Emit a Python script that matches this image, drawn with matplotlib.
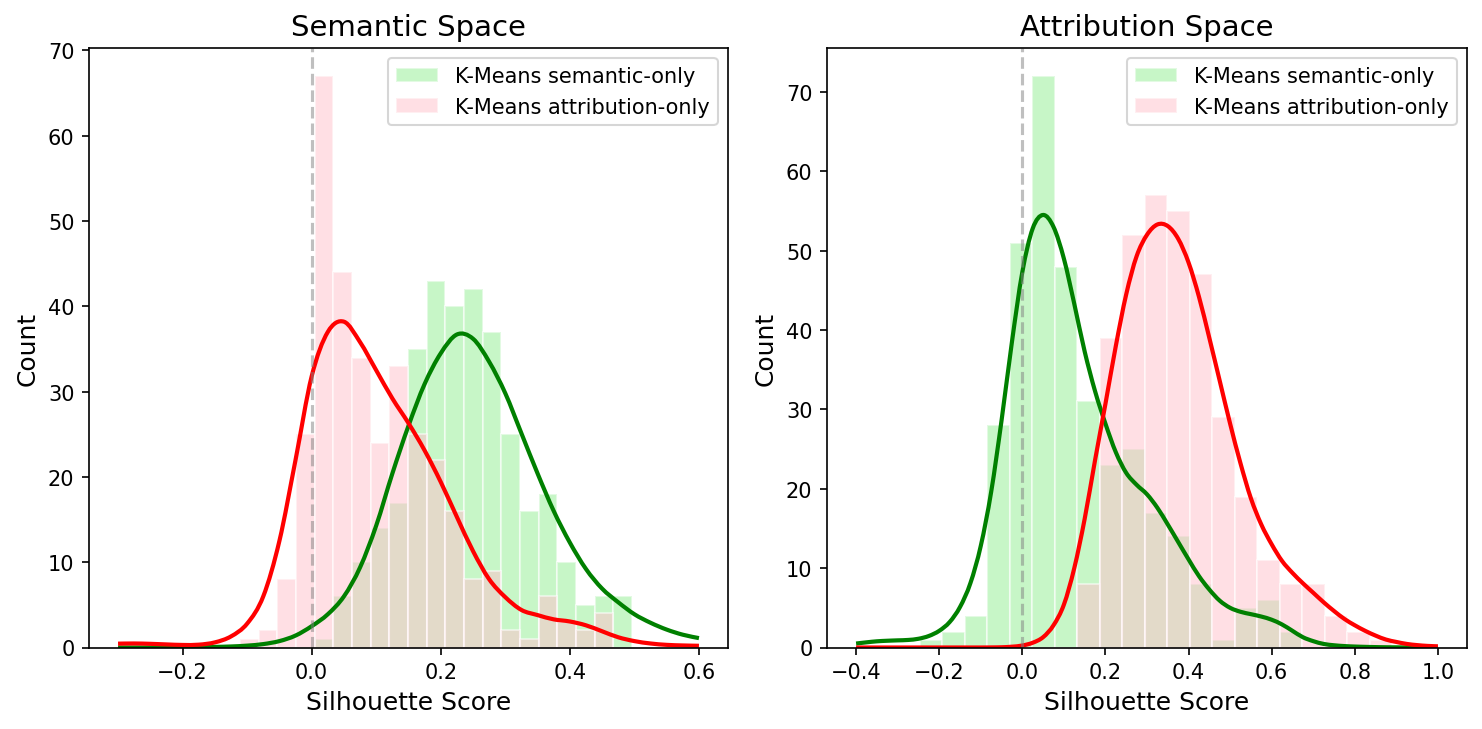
import numpy as np
import matplotlib
matplotlib.use("Agg")
import matplotlib.pyplot as plt
from matplotlib.path import Path
from matplotlib.patches import PathPatch

# ---------------- data ----------------
titles = ["Semantic Space", "Attribution Space"]
series_labels = ["K-Means semantic-only", "K-Means attribution-only"]

# Semantic space histogram (21 common bins)
sem_bin_range = (-0.111, 0.496)
sem_counts_semantic = [0, 0, 0, 0, 1, 6, 10, 14, 17, 35, 43, 40, 42, 37, 25, 16, 18, 10, 5, 6, 6]
sem_counts_attrib = [1, 2, 8, 25, 67, 44, 34, 24, 33, 25, 22, 16, 8, 9, 2, 1, 6, 3, 2, 4, 0]

# Attribution space histogram (21 common bins)
att_bin_range = (-0.2466, 0.8897)
att_counts_semantic = [1, 2, 4, 28, 51, 72, 48, 31, 23, 25, 17, 14, 8, 1, 5, 6, 2, 0, 0, 0, 0]
att_counts_attrib = [0, 0, 0, 0, 0, 0, 0, 8, 39, 52, 57, 55, 47, 29, 19, 11, 8, 8, 4, 2, 1]

# KDE curves (count scale)
sem_kde_x = np.linspace(-0.3, 0.6, 37)
sem_kde_semantic = [0.0, 0.0, 0.0, 0.01, 0.02, 0.04, 0.07, 0.12, 0.22, 0.4, 0.75, 1.4,
                    2.5, 3.9, 6.0, 9.4, 14.3, 20.4, 26.0, 30.9, 34.5, 36.7, 36.2, 33.5,
                    29.8, 25.1, 20.4, 16.0, 12.3, 9.2, 6.9, 5.3, 3.9, 2.9, 2.1, 1.5, 1.1]
sem_kde_attrib = [0.45, 0.47, 0.43, 0.36, 0.30, 0.33, 0.6, 1.3, 2.8, 6.0, 12.5, 22.0,
                  31.8, 37.0, 38.2, 35.8, 32.5, 29.2, 26.3, 23.1, 19.4, 15.3, 11.3, 8.0,
                  5.9, 4.4, 3.8, 3.3, 3.05, 2.6, 1.9, 1.2, 0.75, 0.47, 0.31, 0.24, 0.2]

att_kde_x = np.linspace(-0.4, 1.0, 57)
att_kde_semantic = [0.5, 0.65, 0.78, 0.85, 0.9, 0.95, 1.1, 1.45, 2.1, 3.2, 5.1, 8.1,
                    12.8, 19.6, 28.6, 38.5, 47.3, 52.8, 54.5, 53.0, 49.0, 43.3, 37.3,
                    32.3, 28.2, 24.6, 22.0, 20.5, 19.3, 17.6, 15.5, 13.3, 11.1, 9.0,
                    7.3, 5.9, 5.0, 4.5, 4.2, 3.9, 3.5, 2.9, 2.1, 1.3, 0.8, 0.45, 0.28,
                    0.18, 0.12, 0.08, 0.05, 0.03, 0.02, 0.01, 0.01, 0.0, 0.0]
att_kde_attrib = [0.0, 0.0, 0.0, 0.0, 0.0, 0.0, 0.0, 0.0, 0.0, 0.0, 0.0, 0.0, 0.0,
                  0.01, 0.03, 0.1, 0.25, 0.6, 1.3, 2.8, 5.4, 10.0, 16.2, 23.6, 30.7,
                  38.0, 44.5, 49.3, 52.0, 53.3, 53.1, 51.5, 48.5, 44.2, 39.0, 33.6,
                  28.2, 23.2, 18.8, 15.5, 13.0, 10.9, 9.4, 8.1, 6.9, 5.7, 4.6, 3.6,
                  2.8, 2.1, 1.5, 1.0, 0.7, 0.45, 0.3, 0.2, 0.15]

panels = [
    (sem_bin_range, sem_counts_semantic, sem_counts_attrib, sem_kde_x, sem_kde_semantic, sem_kde_attrib),
    (att_bin_range, att_counts_semantic, att_counts_attrib, att_kde_x, att_kde_semantic, att_kde_attrib),
]


def smooth_curve(ax, x, y, color):
    """Draw a smooth (Catmull-Rom as cubic Bezier) curve through the given points."""
    p = np.column_stack([np.asarray(x, float), np.asarray(y, float)])
    ext = np.vstack([p[0], p, p[-1]])
    verts = [p[0]]
    codes = [Path.MOVETO]
    for i in range(len(p) - 1):
        p0, p1, p2, p3 = ext[i], ext[i + 1], ext[i + 2], ext[i + 3]
        c1 = p1 + (p2 - p0) / 6.0
        c2 = p2 - (p3 - p1) / 6.0
        verts += [c1, c2, p2]
        codes += [Path.CURVE4] * 3
    patch = PathPatch(Path(verts, codes), facecolor="none", edgecolor=color,
                      linewidth=2, capstyle="butt", joinstyle="round")
    ax.add_patch(patch)


# ---------------- plot ----------------
fig = plt.figure(figsize=(14.82 / 1.5, 7.30 / 1.5), dpi=150)
ax1 = fig.add_axes([89 / 1482, 81.5 / 730, 639 / 1482, 600 / 730])
ax2 = fig.add_axes([827 / 1482, 81.5 / 730, 640 / 1482, 600 / 730])

for ax, title, (brange, c_sem, c_att, kx, k_sem, k_att) in zip([ax1, ax2], titles, panels):
    edges = np.linspace(brange[0], brange[1], len(c_sem) + 1)
    centers = 0.5 * (edges[:-1] + edges[1:])
    ax.hist(centers, bins=edges, weights=c_sem, color="lightgreen", alpha=0.5,
            edgecolor="white", label=series_labels[0])
    ax.hist(centers, bins=edges, weights=c_att, color="pink", alpha=0.5,
            edgecolor="white", label=series_labels[1])
    smooth_curve(ax, kx, k_sem, "green")
    smooth_curve(ax, kx, k_att, "red")
    ax.axvline(0, color="gray", linestyle="--", alpha=0.5)
    # limits follow the data extents with matplotlib's default 5% margin
    xmin, xmax = kx[0], kx[-1]
    pad = 0.05 * (xmax - xmin)
    ax.set_xlim(xmin - pad, xmax + pad)
    ax.set_ylim(0, 1.05 * max(max(c_sem), max(c_att)))
    ax.set_title(title, fontsize=14)
    ax.set_xlabel("Silhouette Score", fontsize=12)
    ax.set_ylabel("Count", fontsize=12)
    ax.legend(loc="upper right")

fig.savefig("out.png", dpi=150)
